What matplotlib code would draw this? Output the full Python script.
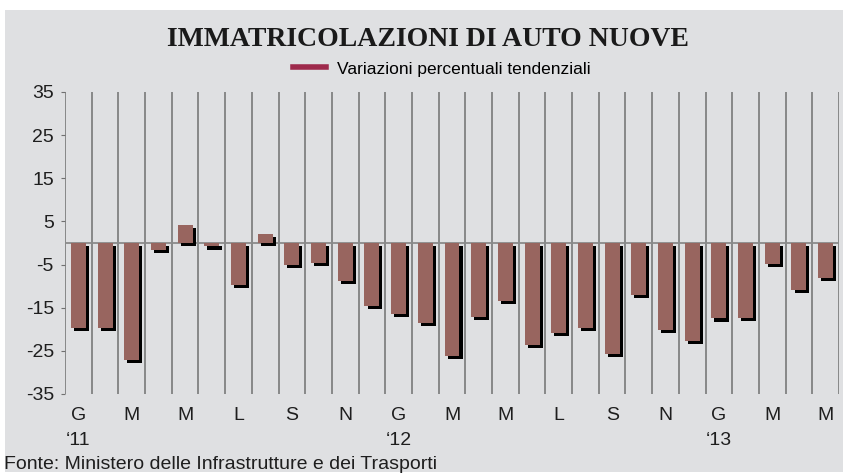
import matplotlib
matplotlib.use("Agg")
import matplotlib.pyplot as plt
import matplotlib.patheffects as pe
from matplotlib.lines import Line2D
from matplotlib.transforms import blended_transform_factory

# Variazioni percentuali tendenziali, gen 2011 - mag 2013
months = ["G", "F", "M", "A", "M", "G", "L", "A", "S", "O", "N", "D"] * 2 + ["G", "F", "M", "A", "M"]
values = [
    -19.8, -19.8, -27.2, -1.6, 4.2, -0.8, -9.8, 2.2, -5.0, -4.6, -8.7, -14.5,
    -16.4, -18.5, -26.1, -17.2, -13.5, -23.7, -20.8, -19.7, -25.7, -12.1,
    -20.1, -22.6, -17.5, -17.4, -4.8, -10.8, -8.0,
]
years = {0: "\u201811", 12: "\u201812", 24: "\u201813"}
yticks = [35, 25, 15, 5, -5, -15, -25, -35]

BG = "#dfe0e2"
BAR = "#98655f"
LEGEND = "#9e2a4c"
TXT = "#1e1e1e"

plt.rcParams["font.family"] = ["Liberation Sans", "DejaVu Sans"]

fig = plt.figure(figsize=(8.43, 4.73), dpi=100)
fig.patch.set_facecolor("white")
# sfondo grigio del riquadro
fig.add_artist(plt.Rectangle((5 / 843, 1 / 473), 1, 1 - 11 / 473,
                             transform=fig.transFigure, facecolor=BG,
                             edgecolor="none", zorder=0))

ax = fig.add_axes([65 / 843, 1 - 394 / 473, 774 / 843, 302 / 473])
ax.set_facecolor("none")

x = list(range(len(values)))
bars = ax.bar(x, values, width=0.56, color=BAR, zorder=3)
for b in bars:
    b.set_path_effects([pe.SimplePatchShadow(offset=(2.2, -2.2), shadow_rgbFace="black", alpha=1.0),
                        pe.Normal()])

# linee verticali di separazione
for i in range(len(values) + 1):
    ax.axvline(i - 0.5, color="#707070", lw=1.1, zorder=2)
ax.axhline(0, color="#8a8a8a", lw=1.3, zorder=2)

ax.set_xlim(-0.5, len(values) - 0.5)
ax.set_ylim(-35, 35)
ax.set_yticks(yticks)
ax.set_yticklabels([str(v) for v in yticks], fontsize=14, color=TXT)
ax.tick_params(axis="y", length=3, width=0.8, color="#707070", pad=5)

ax.set_xticks(x[::2])
ax.set_xticklabels(months[::2], fontsize=14, color=TXT)
ax.tick_params(axis="x", length=0, pad=9)

for s in ax.spines.values():
    s.set_visible(False)

trans = blended_transform_factory(ax.transData, ax.transAxes)
for i, lab in years.items():
    ax.text(i, -0.153, lab, transform=trans, ha="center", va="center",
            fontsize=14, color=TXT)

fig.text(428 / 843, 1 - 39 / 473, "IMMATRICOLAZIONI DI AUTO NUOVE",
         family=["Liberation Serif", "DejaVu Serif"], fontsize=20,
         weight="bold", color="#1a1a1a", ha="center", va="center")

leg_h = [Line2D([0], [0], color=LEGEND, lw=4)]
fig.legend(leg_h, ["Variazioni percentuali tendenziali"], loc="center",
           bbox_to_anchor=(442 / 843, 1 - 69 / 473), frameon=False,
           fontsize=12.5, handlelength=1.9, handletextpad=0.6)

fig.text(4 / 843, 1 - 464 / 473, "Fonte: Ministero delle Infrastrutture e dei Trasporti",
         fontsize=14, color=TXT, ha="left", va="center")

fig.savefig("out.png", dpi=100, facecolor=fig.get_facecolor())
